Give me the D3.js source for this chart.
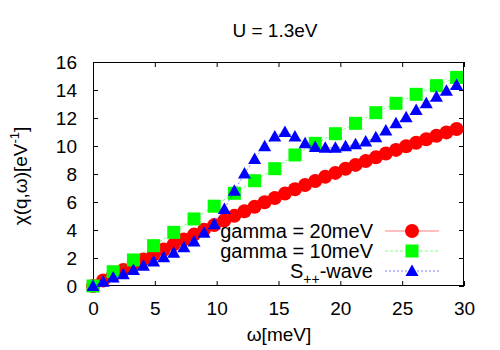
<!DOCTYPE html>
<html><head><meta charset="utf-8">
<script src="https://cdn.jsdelivr.net/npm/d3@7"></script>
<style>
body{margin:0;background:#fff}
text{font-family:"Liberation Sans",Arial,Helvetica,sans-serif;fill:#000}
</style>
</head><body>
<svg id="chart" width="500" height="350"></svg>
<script>
// ---- data ----
const title = "U = 1.3eV";
const xLabel = "ω[meV]";
const omega = [0, 0.82, 1.63, 2.45, 3.27, 4.08, 4.9, 5.72, 6.53, 7.35, 8.17, 8.98, 9.8,
  10.62, 11.43, 12.25, 13.07, 13.88, 14.7, 15.52, 16.33, 17.15, 17.97, 18.78, 19.6,
  20.42, 21.23, 22.05, 22.87, 23.68, 24.5, 25.32, 26.13, 26.95, 27.77, 28.58, 29.4];
const chiGamma20 = [0, 0.39, 0.77, 1.14, 1.52, 1.89, 2.25, 2.61, 2.97, 3.32, 3.67, 4.01, 4.35,
  4.68, 5.01, 5.34, 5.66, 5.98, 6.29, 6.60, 6.91, 7.21, 7.50, 7.80, 8.08,
  8.37, 8.65, 8.92, 9.19, 9.46, 9.72, 9.98, 10.23, 10.48, 10.73, 10.97, 11.21];
const omegaCoarse = [0, 1.63, 3.27, 4.9, 6.53, 8.17, 9.8, 11.43, 13.07, 14.7, 16.33,
  17.97, 19.6, 21.23, 22.87, 24.5, 26.13, 27.77, 29.4];
const chiGamma10 = [0, 1.02, 1.86, 2.88, 3.83, 4.79, 5.70, 6.62, 7.52, 8.38, 9.36,
  10.19, 10.88, 11.62, 12.38, 13.05, 13.69, 14.31, 14.9];
const chiSpp = [0, 0.31, 0.6, 0.84, 1.14, 1.44, 1.75, 2.06, 2.38, 2.76, 3.18, 3.8, 4.41,
  5.5, 6.8, 8.03, 9.08, 9.98, 10.68, 11.0, 10.68, 10.19, 9.92, 9.87, 9.88,
  9.98, 10.12, 10.33, 10.62, 11.1, 11.62, 12.05, 12.57, 13.05, 13.52, 13.95, 14.36];
const xTicks = [0, 5, 10, 15, 20, 25, 30];
const yTicks = [0, 2, 4, 6, 8, 10, 12, 14, 16];
const legendLabels = ["gamma = 20meV", "gamma = 10meV", "S++-wave"];

// ---- layout ----
const svg = d3.select("#chart");
const L = 93, R = 464, T = 62, B = 286;
const x = d3.scaleLinear().domain([0, 30]).range([L, R]);
const y = d3.scaleLinear().domain([0, 16]).range([B, T]);
const FS = 19;

// axes with inward ticks on all sides
const gx = svg.append("g").attr("transform", `translate(0,${B})`)
  .call(d3.axisBottom(x).tickValues(xTicks).tickSize(-5).tickPadding(0).tickFormat(d3.format("d")));
gx.selectAll("text").attr("y", 29).attr("dy", 0).style("font-size", FS + "px");
const gxt = svg.append("g").attr("transform", `translate(0,${T})`)
  .call(d3.axisTop(x).tickValues(xTicks).tickSize(-5).tickFormat(""));
const gy = svg.append("g").attr("transform", `translate(${L},0)`)
  .call(d3.axisLeft(y).tickValues(yTicks).tickSize(-5).tickPadding(0).tickFormat(d3.format("d")));
gy.selectAll("text").attr("x", -16).attr("dy", "0.35em").style("font-size", FS + "px");
const gyr = svg.append("g").attr("transform", `translate(${R},0)`)
  .call(d3.axisRight(y).tickValues(yTicks).tickSize(-5).tickFormat(""));
[gx, gxt, gy, gyr].forEach(g => {
  g.select(".domain").remove();
  g.selectAll("line").attr("stroke", "#000").attr("stroke-width", 1);
  g.selectAll("text").attr("fill", "#000").style("font-family", '"Liberation Sans",Arial,sans-serif');
});
svg.append("rect").attr("x", L + 0.5).attr("y", T + 0.5)
  .attr("width", R - L - 1).attr("height", B - T - 1)
  .attr("fill", "none").attr("stroke", "#000").attr("stroke-width", 1);

// titles
svg.append("text").attr("x", 275).attr("y", 37).attr("text-anchor", "middle")
  .style("font-size", FS + "px").text(title);
svg.append("text").attr("x", 279).attr("y", 341).attr("text-anchor", "middle")
  .style("font-size", FS + "px").text(xLabel);
const yl = svg.append("text").attr("transform", "translate(27,176) rotate(-90)")
  .attr("text-anchor", "middle").style("font-size", FS + "px");
yl.append("tspan").text("χ(q,ω)[eV");
yl.append("tspan").attr("dy", -8).style("font-size", "13px").text("-1");
yl.append("tspan").attr("dy", 8).text("]");

// series
const series = [
  {xs: omega, ys: chiGamma20, color: "#ff0000", dash: null, shape: "circle"},
  {xs: omegaCoarse, ys: chiGamma10, color: "#00ff00", dash: "3,2", shape: "square"},
  {xs: omega, ys: chiSpp, color: "#0000ff", dash: "2,2", shape: "triangle"}
];
const lineGen = d3.line().x(d => x(d[0])).y(d => y(d[1]));
function marker(g, shape, color) {
  if (shape === "circle") {
    g.append("circle").attr("r", 7).attr("fill", color);
  } else if (shape === "square") {
    g.append("rect").attr("x", -6.5).attr("y", -6.5).attr("width", 13).attr("height", 13).attr("fill", color);
  } else {
    g.append("path").attr("d", "M0,-6.5L6.5,5L-6.5,5Z").attr("fill", color);
  }
}
const plot = svg.append("g");
series.forEach(s => {
  const pts = s.xs.map((v, i) => [v, s.ys[i]]);
  plot.append("path").datum(pts).attr("d", lineGen).attr("fill", "none")
    .attr("stroke", s.color).attr("stroke-width", 1).attr("stroke-opacity", 0.5)
    .attr("stroke-dasharray", s.dash);
  pts.forEach(p => {
    const g = plot.append("g").attr("transform", `translate(${x(p[0])},${y(p[1])})`);
    marker(g, s.shape, s.color);
  });
});

// legend
const legY = [231, 251, 271];
series.forEach((s, i) => {
  svg.append("line").attr("x1", 385).attr("x2", 439).attr("y1", legY[i]).attr("y2", legY[i])
    .attr("stroke", s.color).attr("stroke-width", 1).attr("stroke-opacity", 0.5)
    .attr("stroke-dasharray", s.dash);
  const g = svg.append("g").attr("transform", `translate(412,${legY[i]})`);
  marker(g, s.shape, s.color);
  const t = svg.append("text").attr("x", 373).attr("y", legY[i] + 6.5)
    .attr("text-anchor", "end").style("font-size", "20px");
  if (i < 2) t.text(legendLabels[i]);
  else {
    t.append("tspan").text("S");
    t.append("tspan").attr("dy", 6).style("font-size", "14px").text("++");
    t.append("tspan").attr("dy", -6).text("-wave");
  }
});
</script>
</body></html>
